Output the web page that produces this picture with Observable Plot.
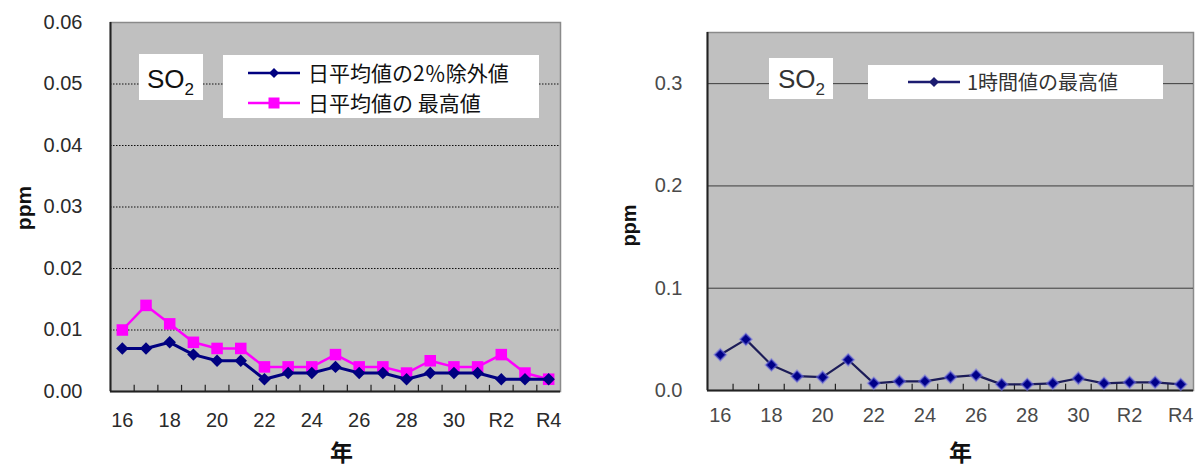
<!DOCTYPE html>
<html>
<head>
<meta charset="utf-8">
<script src="https://cdn.jsdelivr.net/npm/d3@7"></script>
<script src="https://cdn.jsdelivr.net/npm/@observablehq/plot@0.6"></script>
<style>
  html, body { margin: 0; padding: 0; background: #fff; }
  #root { position: relative; width: 1196px; height: 470px; overflow: hidden; }
  .abs { position: absolute; }
  .box { position: absolute; background: #fff; }
</style>
</head>
<body>
<div id="root"></div>
<script>
// ---- data ----
const years = ["16","17","18","19","20","21","22","23","24","25","26","27","28","29","30","R1","R2","R3","R4"];
const xTickLabels = ["16","18","20","22","24","26","28","30","R2","R4"];
const daily2pct = [0.007,0.007,0.008,0.006,0.005,0.005,0.002,0.003,0.003,0.004,0.003,0.003,0.002,0.003,0.003,0.003,0.002,0.002,0.002];
const dailyMax  = [0.010,0.014,0.011,0.008,0.007,0.007,0.004,0.004,0.004,0.006,0.004,0.004,0.003,0.005,0.004,0.004,0.006,0.003,0.002];
const hourlyMax = [0.035,0.050,0.025,0.014,0.013,0.030,0.007,0.009,0.009,0.013,0.015,0.006,0.006,0.007,0.012,0.007,0.008,0.008,0.006];
const leftYTicks = [0,0.01,0.02,0.03,0.04,0.05,0.06];
const rightYTicks = [0,0.1,0.2,0.3];
const legendLeft = ["日平均値の2％除外値", "日平均値の 最高値"];
const legendRight = ["1時間値の最高値"];
const yLabel = "ppm";
const xLabel = "年";
const pollutant = "SO";

// ---- helpers ----
const toRows = vals => vals.map((v, i) => ({i, year: years[i], v}));
const xIdx = years.map((y, i) => i).filter(i => xTickLabels.includes(years[i]));
const boundaries = years.slice(1).map((y, i) => i + 0.5);
const latin = "'Liberation Sans', Arial, sans-serif";
const cjk = "'Noto Sans CJK JP', sans-serif";

function panel(o) {
  return Plot.plot({
    width: o.width, height: 470,
    marginLeft: o.ml, marginRight: o.mr, marginTop: o.mt, marginBottom: o.mb,
    style: {fontFamily: latin, fontSize: o.tickFont, color: o.textColor, background: "transparent", overflow: "visible"},
    x: {type: "linear", domain: [-0.5, years.length - 0.5]},
    y: {domain: o.yDomain},
    marks: [
      Plot.frame({fill: "#c0c0c0", stroke: "#8a8a8a", strokeWidth: 1.5}),
      Plot.ruleY(o.yTicks.filter(t => t > 0 && t < o.yDomain[1] - 1e-9), {y: d => d, stroke: o.gridColor, strokeWidth: 1, strokeDasharray: o.gridDash}),
      Plot.ruleX(boundaries, {x: d => d, y1: 0, y2: o.tickLen, stroke: "#222", strokeWidth: 1.2}),
      Plot.ruleX([-0.5], {x: d => d, stroke: "#222", strokeWidth: 2}),
      Plot.ruleY([0], {y: d => d, stroke: "#222", strokeWidth: 2}),
      Plot.axisY({ticks: o.yTicks, tickFormat: o.yFormat, tickSize: 0, tickPadding: o.yPad, label: null}),
      Plot.axisX({ticks: xIdx, tickFormat: i => years[i], tickSize: 0, tickPadding: o.xPad, label: null}),
      ...o.series,
      Plot.text([yLabel], {frameAnchor: "left", textAnchor: "middle", lineAnchor: "middle", dx: o.ylDx, dy: o.ylDy, rotate: -90, fontWeight: "bold", fontSize: o.ylSize, fill: "#111"}),
      Plot.text([xLabel], {frameAnchor: "bottom", textAnchor: "middle", lineAnchor: "middle", dx: o.xlDx, dy: o.xlDy, fontWeight: "bold", fontSize: 23, fontFamily: cjk, fill: "#111"})
    ]
  });
}

const left = panel({
  width: 590, ml: 110, mr: 30, mt: 22, mb: 79,
  tickFont: "20px", textColor: "#2a2a2a",
  yDomain: [0, 0.06], yTicks: leftYTicks, yFormat: d3.format(".2f"),
  gridColor: "#111", gridDash: "1.5,1.5", tickLen: 0.001,
  yPad: 28, xPad: 21, ylDx: -86, ylDy: 1, ylSize: 21, xlDx: 6, xlDy: 62,
  series: [
    Plot.line(toRows(dailyMax), {x: "i", y: "v", stroke: "#ff00ff", strokeWidth: 2.5}),
    Plot.dot(toRows(dailyMax), {x: "i", y: "v", symbol: "square", r: 6.5, fill: "#ff00ff", stroke: "none"}),
    Plot.line(toRows(daily2pct), {x: "i", y: "v", stroke: "#000080", strokeWidth: 3}),
    Plot.dot(toRows(daily2pct), {x: "i", y: "v", symbol: "diamond2", r: 5.6, fill: "#000080", stroke: "none"})
  ]
});

const right = panel({
  width: 596, ml: 107, mr: 3, mt: 32, mb: 80,
  tickFont: "20px", textColor: "#4a4a4a",
  yDomain: [0, 0.35], yTicks: rightYTicks, yFormat: d3.format(".1f"),
  gridColor: "#3c3c3c", gridDash: null, tickLen: 0.006,
  yPad: 25, xPad: 17, ylDx: -78, ylDy: 14, ylSize: 20, xlDx: 10, xlDy: 63,
  series: [
    Plot.line(toRows(hourlyMax), {x: "i", y: "v", stroke: "#1c1c58", strokeWidth: 2.2}),
    Plot.dot(toRows(hourlyMax), {x: "i", y: "v", symbol: "diamond2", r: 5.2, fill: "#000088", stroke: "#7070e0", strokeOpacity: 0.55, strokeWidth: 2})
  ]
});

const root = document.getElementById("root");
left.classList.add("abs"); left.style.left = "0px"; left.style.top = "0px";
right.classList.add("abs"); right.style.left = "600px"; right.style.top = "0px";
root.appendChild(left);
root.appendChild(right);

const NS = "http://www.w3.org/2000/svg";
function box(x, y, w, h) {
  const d = document.createElement("div");
  d.className = "box";
  Object.assign(d.style, {left: x + "px", top: y + "px", width: w + "px", height: h + "px"});
  const s = document.createElementNS(NS, "svg");
  s.setAttribute("width", w); s.setAttribute("height", h);
  d.appendChild(s); root.appendChild(d);
  return s;
}
function el(parent, tag, attrs, text) {
  const e = document.createElementNS(NS, tag);
  for (const k in attrs) e.setAttribute(k, attrs[k]);
  if (text != null) e.textContent = text;
  parent.appendChild(e);
  return e;
}
function so2(svg, x, y, color) {
  const t = el(svg, "text", {x, y, "font-family": latin, "font-size": 26, fill: color});
  t.appendChild(document.createTextNode(pollutant));
  el(t, "tspan", {dy: 7, "font-size": 17}, "2");
}
function legendRow(svg, x1, x2, cy, tx, color, sym, label, fontSize, textColor) {
  el(svg, "line", {x1, x2, y1: cy, y2: cy, stroke: color, "stroke-width": 2.5});
  const cx = (x1 + x2) / 2;
  if (sym === "square") el(svg, "rect", {x: cx - 5.5, y: cy - 5.5, width: 11, height: 11, fill: color});
  else el(svg, "path", {d: `M${cx},${cy - 5}L${cx + 5},${cy}L${cx},${cy + 5}L${cx - 5},${cy}Z`, fill: color});
  el(svg, "text", {x: tx, y: cy + 7.5, "font-family": cjk, "font-size": fontSize, fill: textColor}, label);
}

// left panel annotations
so2(box(139, 54, 64, 46), 8, 34, "#111");
const lg = box(223, 55, 316, 63);
legendRow(lg, 25, 77, 18, 85, "#000080", "diamond", legendLeft[0], 21, "#111");
legendRow(lg, 25, 77, 48, 85, "#ff00ff", "square", legendLeft[1], 21, "#111");

// right panel annotations
so2(box(769, 58, 64, 41), 9, 30, "#333");
const rg = box(868, 65, 295, 34);
legendRow(rg, 40, 92, 17, 99, "#1c1c70", "diamond", legendRight[0], 20, "#333");
</script>
</body>
</html>
